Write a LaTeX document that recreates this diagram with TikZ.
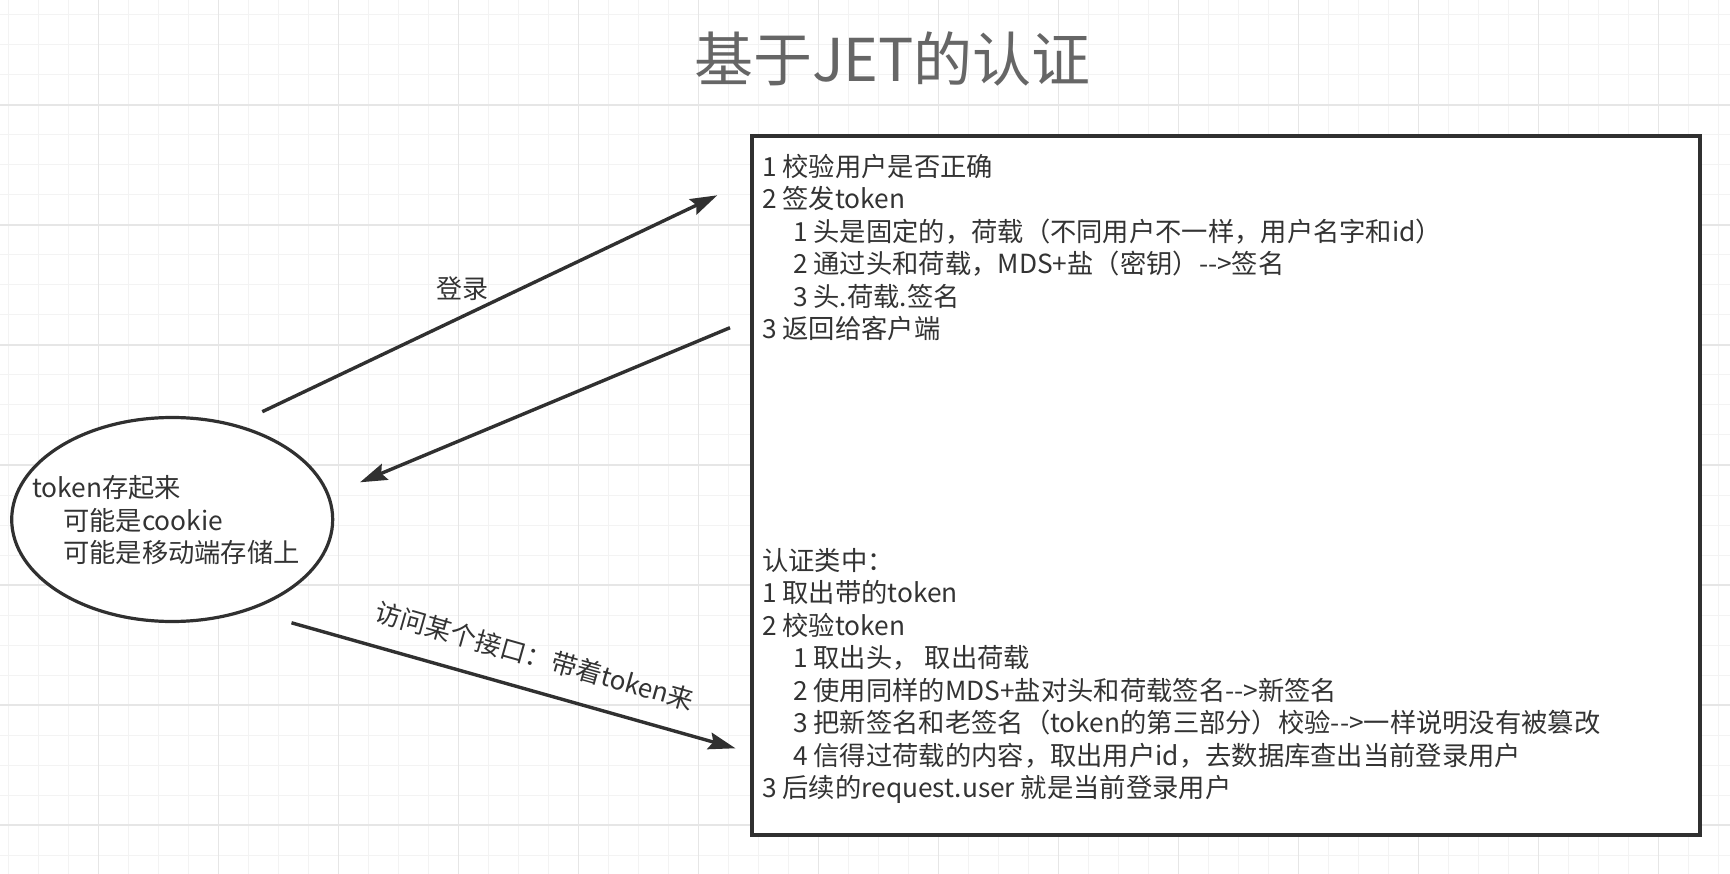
\documentclass[tikz,border=0pt]{standalone}
\usepackage{fontspec}
\newfontfamily\cjkf{Noto Sans CJK SC}
\usetikzlibrary{shapes.geometric,arrows.meta}
\definecolor{ink}{HTML}{303030}
\definecolor{txtc}{HTML}{333333}
\definecolor{titlec}{HTML}{666666}
\definecolor{gminor}{HTML}{F3F3F3}
\definecolor{gmajor}{HTML}{E6E6E6}
\tikzset{
  txt/.style={font=\cjkf\fontsize{26.3}{32.5}\selectfont, text=txtc, inner sep=0pt, align=left},
  shapeline/.style={draw=ink, line width=3.2pt, fill=white},
  arr/.style={draw=ink, line width=3.4pt, -{Stealth[length=27pt,width=17pt,inset=4pt]}},
  lbl/.style={font=\cjkf\fontsize{26}{32.4}\selectfont, text=txtc, inner sep=0pt}
}
\begin{document}
\begin{tikzpicture}[x=1pt,y=-1pt]
\useasboundingbox (0,0) rectangle (1730,874);
\fill[white] (0,0) rectangle (1730,874);
% grid
\foreach \i in {0,...,57} \draw[gminor, line width=1pt] ({8.7+30*\i},0) -- ({8.7+30*\i},874);
\foreach \j in {0,...,28} \draw[gminor, line width=1pt] (0,{15+30*\j}) -- (1730,{15+30*\j});
\foreach \i in {0,...,13} \draw[gmajor, line width=1.4pt] ({98.7+120*\i},0) -- ({98.7+120*\i},874);
\foreach \j in {0,...,6} \draw[gmajor, line width=1.4pt] (0,{105+120*\j}) -- (1730,{105+120*\j});

% title
\node[font=\cjkf\fontsize{59}{70}\selectfont, text=titlec, inner sep=0pt] (title) at (892.5,58.5) {基于JET的认证};

% server box
\node[shapeline, rectangle, minimum width=948pt, minimum height=699pt, inner sep=0pt] (box) at (1226,485.5) {};

% client ellipse
\node[shapeline, ellipse, minimum width=321pt, minimum height=204pt, inner sep=0pt] (client) at (172.2,519.5) {};

% texts
\node[txt, anchor=north west] (steps) at (762,154) {1 校验用户是否正确\\
2 签发token\\
\hspace*{31pt}1 头是固定的，荷载（不同用户不一样，用户名字和id）\\
\hspace*{31pt}2 通过头和荷载，MDS+盐（密钥）-->签名\\
\hspace*{31pt}3 头.荷载.签名\\
3 返回给客户端};

\node[txt, anchor=north west] (auth) at (762,548) {认证类中：\\
1 取出带的token\\
2 校验token\\
\hspace*{31pt}1 取出头， 取出荷载\\
\hspace*{31pt}2 使用同样的MDS+盐对头和荷载签名-->新签名\\
\hspace*{31pt}3 把新签名和老签名（token的第三部分）校验-->一样说明没有被篡改\\
\hspace*{31pt}4 信得过荷载的内容，取出用户id，去数据库查出当前登录用户\\
3 后续的request.user 就是当前登录用户};

\node[txt, anchor=north west] (store) at (32,475.5) {token存起来\\
\hspace*{31pt}可能是cookie\\
\hspace*{31pt}可能是移动端存储上};

% arrows
\coordinate (loginS) at (262.3,411.7);
\coordinate (loginE) at (717.3,195.3);
\coordinate (retS) at (730,327.7);
\coordinate (retE) at (360,482.3);
\coordinate (accS) at (291.5,622.8);
\coordinate (accE) at (735.5,748.3);
\draw[arr] (loginS) -- (loginE);
\draw[arr] (retS) -- (retE);
\draw[arr] (accS) -- (accE);

\node[lbl] (loginlbl) at (462.3,289) {登录};
\node[lbl, rotate=-15.8] (acclbl) at (535,656) {访问某个接口：带着token来};
\end{tikzpicture}
\end{document}
